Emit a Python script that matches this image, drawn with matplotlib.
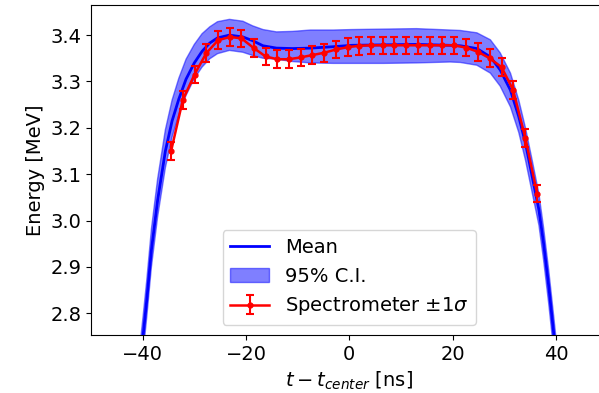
import matplotlib
matplotlib.use("Agg")
import matplotlib.pyplot as plt

# Mean curve and 95% C.I. band
t_mean = [-41.0, -39.9, -39.2, -38.3, -37.1, -35.6, -34.3, -33.0, -31.6, -30.0,
          -28.5, -27.0, -25.5, -23.2, -20.6, -18.7, -16.7, -14.1, -11.0,
          -7.5, -3.1, 0.5, 6.6, 13.0, 19.5, 21.5, 24.7, 27.3, 29.2,
          31.2, 32.8, 34.1, 35.4, 36.7, 37.6, 38.6, 39.6, 41.0]
e_mean = [2.640, 2.753, 2.829, 2.937, 3.044, 3.150, 3.215, 3.262, 3.305, 3.340,
          3.365, 3.383, 3.394, 3.400, 3.396, 3.388, 3.377, 3.372, 3.371,
          3.372, 3.375, 3.378, 3.379, 3.380, 3.378, 3.377, 3.371, 3.353, 3.325,
          3.281, 3.224, 3.167, 3.095, 3.023, 2.951, 2.858, 2.753, 2.600]
e_lower = [2.600, 2.715, 2.792, 2.900, 3.008, 3.114, 3.180, 3.228, 3.270, 3.306,
           3.331, 3.349, 3.360, 3.367, 3.363, 3.356, 3.350, 3.348, 3.343,
           3.340, 3.339, 3.339, 3.339, 3.340, 3.342, 3.341, 3.335, 3.318, 3.290,
           3.245, 3.190, 3.130, 3.060, 2.990, 2.915, 2.820, 2.715, 2.560]
e_upper = [2.680, 2.795, 2.872, 2.982, 3.090, 3.196, 3.260, 3.307, 3.348, 3.380,
           3.403, 3.418, 3.429, 3.434, 3.430, 3.420, 3.412, 3.407, 3.408,
           3.411, 3.411, 3.412, 3.413, 3.414, 3.411, 3.410, 3.405, 3.390, 3.362,
           3.318, 3.260, 3.200, 3.130, 3.058, 2.985, 2.893, 2.790, 2.640]

# Spectrometer measurements
t_spec = [-34.49, -32.23, -29.96, -27.69, -25.40, -23.11, -20.87, -18.49, -16.21, -13.94,
          -11.67, -9.40, -7.13, -4.85, -2.58, -0.31, 1.94, 4.21, 6.49, 8.74,
          11.01, 13.28, 15.53, 17.90, 20.23, 22.60, 24.89, 27.18, 29.46, 31.69,
          34.08, 36.35]
e_spec = [3.150, 3.260, 3.315, 3.361, 3.389, 3.396, 3.393, 3.372, 3.354, 3.348,
          3.348, 3.352, 3.357, 3.362, 3.369, 3.374, 3.377, 3.378, 3.378, 3.378,
          3.378, 3.378, 3.378, 3.378, 3.378, 3.373, 3.364, 3.350, 3.331, 3.282,
          3.178, 3.058]
e_sigma = [0.019, 0.019, 0.019, 0.019, 0.019, 0.019, 0.019, 0.019, 0.019, 0.019,
           0.019, 0.019, 0.019, 0.019, 0.019, 0.019, 0.019, 0.019, 0.019, 0.019,
           0.019, 0.019, 0.019, 0.019, 0.019, 0.019, 0.019, 0.019, 0.019, 0.019,
           0.019, 0.019]

xticks = [-40, -20, 0, 20, 40]
yticks = [2.8, 2.9, 3.0, 3.1, 3.2, 3.3, 3.4]

plt.rcParams['font.family'] = ['DejaVu Sans']
plt.rcParams['font.size'] = 14

fig = plt.figure(figsize=(5.99, 3.93), dpi=100)
ax = fig.add_axes([0.1519, 0.1476, 0.8625, 0.8397])

ax.plot(t_mean, e_mean, color='blue', lw=2.0, label='Mean', zorder=3)
ax.fill_between(t_mean, e_lower, e_upper, color='blue', alpha=0.5,
                label='95% C.I.', zorder=2)
ax.errorbar(t_spec, e_spec, yerr=e_sigma, color='red', lw=1.8, marker='o',
            markersize=3.5, capsize=3, elinewidth=1.5, capthick=1.5,
            label=r'Spectrometer $\pm1\sigma$', zorder=4)

ax.set_xlim(-50, 50)
ax.set_ylim(2.753, 3.465)
ax.set_xticks(xticks)
ax.set_yticks(yticks)
ax.set_xticklabels(['\u221240', '\u221220', '0', '20', '40'])
ax.set_yticklabels(['2.8', '2.9', '3.0', '3.1', '3.2', '3.3', '3.4'])
ax.set_xlabel(r'$t - t_{center}$ [ns]')
ax.set_ylabel('Energy [MeV]')
ax.legend(loc='lower center', fontsize=14)

fig.savefig('out.png', dpi=100)
